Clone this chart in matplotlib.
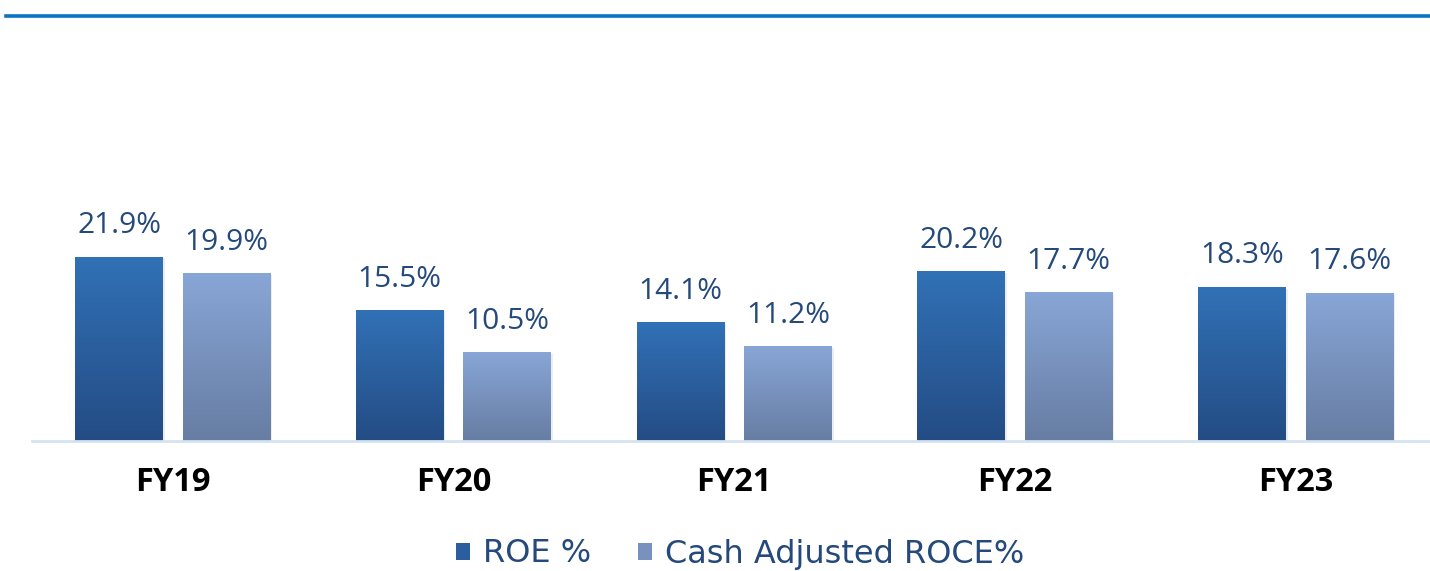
import numpy as np
import matplotlib.pyplot as plt
from matplotlib.colors import LinearSegmentedColormap
from matplotlib.patches import Patch, Rectangle

years = ["FY19", "FY20", "FY21", "FY22", "FY23"]
roe = [21.9, 15.5, 14.1, 20.2, 18.3]
roce = [19.9, 10.5, 11.2, 17.7, 17.6]

plt.rcParams['font.family'] = ['Open Sans', 'DejaVu Sans']

W, H = 1430, 571
fig = plt.figure(figsize=(W / 100, H / 100), dpi=100)
ax = fig.add_axes([32.4 / W, (H - 441) / H, 1403.75 / W, (441 - 30) / H])

x = np.arange(len(years))
bw = 0.313
off = 0.1915

cm_roe = LinearSegmentedColormap.from_list("roe", ["#244C84", "#3171B6"])
cm_roce = LinearSegmentedColormap.from_list("roce", ["#677DA3", "#88A6D6"])
grad = np.linspace(0, 1, 256).reshape(-1, 1)


def gbar(xc, h, cmap):
    x0, x1 = xc - bw / 2, xc + bw / 2
    # light shadow
    ax.add_patch(Rectangle((x0 + 0.006, 0), bw, h - 0.15, color="#d8dce2",
                           alpha=0.5, zorder=1, lw=0))
    ax.imshow(grad, cmap=cmap, extent=[x0, x1, 0, h], origin="lower",
              aspect="auto", zorder=2)


for i in x:
    gbar(i - off, roe[i], cm_roe)
    gbar(i + off, roce[i], cm_roce)
    ax.text(i - off, roe[i] + 2.0, f"{roe[i]}%", ha="center", va="bottom",
            fontsize=21.5, color="#24497A")
    ax.text(i + off, roce[i] + 2.0, f"{roce[i]}%", ha="center", va="bottom",
            fontsize=21.5, color="#24497A")

ax.set_xlim(-0.5, len(years) - 0.5)
ax.set_ylim(0, 411 / 8.4)
for s in ["top", "right", "left"]:
    ax.spines[s].set_visible(False)
ax.spines["bottom"].set_color("#D5E2F2")
ax.spines["bottom"].set_linewidth(2)
ax.set_yticks([])
ax.set_xticks(x)
ax.set_xticklabels(years, fontsize=23.5, fontweight="bold", color="black")
ax.tick_params(axis="x", length=0, pad=18)

# top rule
fig.add_artist(plt.Line2D([6 / W, 1], [(H - 15.5) / H] * 2, color="#0A74C4",
                          lw=2.6))

handles = [Patch(facecolor="#2A5E9E", label="ROE %"),
           Patch(facecolor="#7891BE", label="Cash Adjusted ROCE%")]
leg = fig.legend(handles=handles, loc="center", bbox_to_anchor=(740 / W, (H - 554) / H),
                 ncol=2, frameon=False, handlelength=0.45,
                 handleheight=0.45, handletextpad=0.4, columnspacing=1.45,
                 prop={"family": "DejaVu Sans", "size": 23})
for t in leg.get_texts():
    t.set_color("#24497A")

fig.savefig("out.png", dpi=100)
